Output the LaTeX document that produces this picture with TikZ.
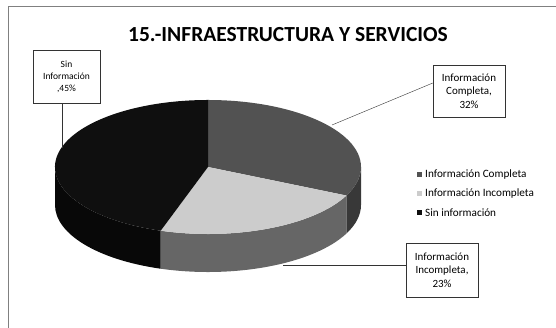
\documentclass[tikz,border=0pt]{standalone}
\usepackage{fontspec}
\setmainfont{Carlito}
\usepackage{tikz}
\tikzset{
  >=latex,
}
\definecolor{topC}{gray}{0.32}
\definecolor{sideC}{gray}{0.22}
\definecolor{topI}{gray}{0.80}
\definecolor{sideI}{gray}{0.40}
\definecolor{topS}{gray}{0.06}
\definecolor{sideS}{gray}{0.03}
\tikzstyle{lbl}=[draw=black!80,thin,fill=white,align=center,font=\fontsize{11}{13.5}\selectfont,inner sep=2pt]
\tikzstyle{leader}=[black!80,thin]
\tikzstyle{key}=[font=\fontsize{11.2}{12}\selectfont,anchor=west,inner sep=0pt]
\tikzstyle{swatch}=[minimum size=5pt,inner sep=0pt]

\begin{document}
\begin{tikzpicture}[x=1pt,y=1pt]
    \useasboundingbox (0,0) rectangle (556,328);
    \draw[gray,line width=1pt] (8,-5)--(8,321)--(560,321);
    \node[font=\bfseries\fontsize{21.5}{24}\selectfont] (title) at (288,293) {15.-INFRAESTRUCTURA Y SERVICIOS};
    \coordinate (c) at (208,161);
    % side of the pie
    \fill[sideC] (c) ++(-25.2:153 and 67) arc[start angle=-25.2,end angle=0,x radius=153,y radius=67] -- ++(0,-38) arc[start angle=0,end angle=-25.2,x radius=153,y radius=67] -- cycle;
    \fill[sideI] (c) ++(-108:153 and 67) arc[start angle=-108,end angle=-25.2,x radius=153,y radius=67] -- ++(0,-38) arc[start angle=-25.2,end angle=-108,x radius=153,y radius=67] -- cycle;
    \fill[sideS] (c) ++(-180:153 and 67) arc[start angle=-180,end angle=-108,x radius=153,y radius=67] -- ++(0,-38) arc[start angle=-108,end angle=-180,x radius=153,y radius=67] -- cycle;
    % top of the pie
    \fill[topC] (c) -- ++(90:153 and 67) arc[start angle=90,end angle=-25.2,x radius=153,y radius=67] -- cycle;
    \fill[topI] (c) -- ++(-25.2:153 and 67) arc[start angle=-25.2,end angle=-108,x radius=153,y radius=67] -- cycle;
    \fill[topS] (c) -- ++(-108:153 and 67) arc[start angle=-108,end angle=-270,x radius=153,y radius=67] -- cycle;
    % legend
    \node[swatch,fill=topC] (kc) at (419,153) {};
    \node[key] (tc) at (425,153) {Información Completa};
    \node[swatch,fill=topI] (ki) at (419,134) {};
    \node[key] (ti) at (425,134) {Información Incompleta};
    \node[swatch,fill=topS] (ks) at (419,115) {};
    \node[key] (ts) at (425,115) {Sin información};
    % labels
    \node[lbl,minimum width=72,minimum height=52] (cbox) at (469,237) {Información\\Completa,\\32\%};
    \node[lbl,minimum width=72,minimum height=54] (ibox) at (442,58) {Información\\Incompleta,\\23\%};
    \node[lbl,font=\fontsize{9.5}{12}\selectfont,minimum width=67,minimum height=53] (sbox) at (66.5,251.5) {Sin\\Información\\,45\%};
    \coordinate (pC) at (332,203);
    \coordinate (pI) at (283,63);
    \coordinate (pS) at (62,180);
    \draw[leader] (pC) -- ([yshift=8]cbox.west);
    \draw[leader] (pI) -- (pI -| ibox.west);
    \draw[leader] (pS) -- (pS |- sbox.south);
\end{tikzpicture}
\end{document}
